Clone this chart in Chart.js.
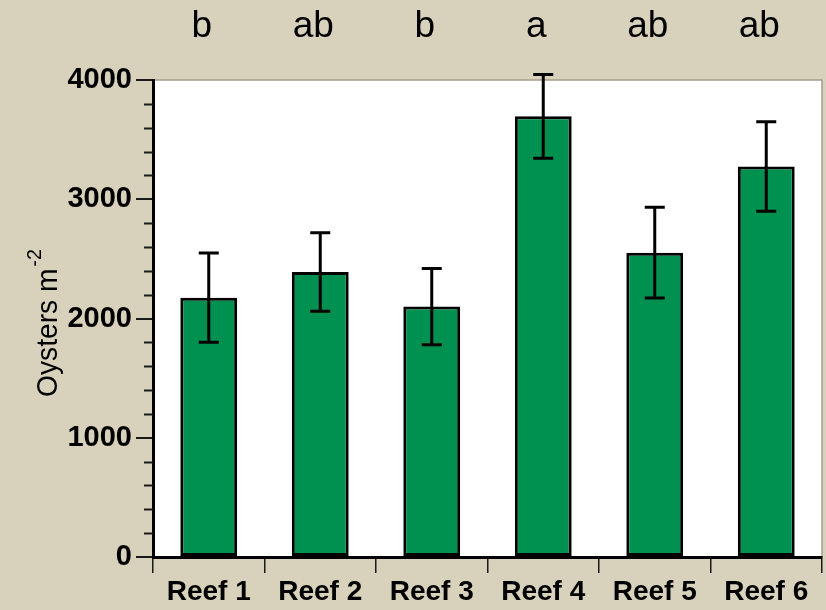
<!DOCTYPE html>
<html>
<head>
<meta charset="utf-8">
<script src="https://cdn.jsdelivr.net/npm/chart.js@4.4.1/dist/chart.umd.min.js"></script>
<style>
  html, body { margin: 0; padding: 0; background: #d8d1bb; }
  #wrap { width: 826px; height: 610px; position: relative; }
</style>
</head>
<body>
<div id="wrap"><canvas id="c" width="826" height="610"></canvas></div>
<script>
// Oyster density per reef (mean and standard error), with significance groups
const reefs = ['Reef 1', 'Reef 2', 'Reef 3', 'Reef 4', 'Reef 5', 'Reef 6'];
const meanDensity = [2175, 2390, 2100, 3695, 2552, 3275];
const stdError = [374, 330, 320, 352, 381, 375];
const groupLetters = ['b', 'ab', 'b', 'a', 'ab', 'ab'];
const yMin = 0, yMax = 4000, yMajorStep = 1000, yMinorStep = 200;

const FONT = '"Liberation Sans", Arial, sans-serif';

// White plotting panel with a thin grey frame on top and right
const panelPlugin = {
  id: 'panel',
  beforeDraw(chart) {
    const { ctx, chartArea: a } = chart;
    ctx.save();
    ctx.fillStyle = '#ffffff';
    ctx.fillRect(a.left, a.top, a.right - a.left, a.bottom - a.top);
    ctx.strokeStyle = '#a39d8b';
    ctx.lineWidth = 1.5;
    ctx.beginPath();
    ctx.moveTo(a.left, a.top);
    ctx.lineTo(a.right, a.top);
    ctx.lineTo(a.right, a.bottom);
    ctx.stroke();
    ctx.restore();
  }
};

// Minor tick marks on the value axis
const minorTickPlugin = {
  id: 'minorTicks',
  afterDraw(chart) {
    const { ctx } = chart;
    const y = chart.scales.y;
    ctx.save();
    ctx.strokeStyle = '#1a1a1a';
    ctx.lineWidth = 2;
    for (let v = yMin; v <= yMax; v += yMinorStep) {
      if (v % yMajorStep === 0) continue;
      const py = Math.round(y.getPixelForValue(v)) + 0.5;
      ctx.beginPath();
      ctx.moveTo(y.right - 9, py);
      ctx.lineTo(y.right, py);
      ctx.stroke();
    }
    ctx.restore();
  }
};

// Standard-error whiskers on each bar
const errorBarPlugin = {
  id: 'errorBars',
  afterDatasetsDraw(chart) {
    const { ctx } = chart;
    const y = chart.scales.y;
    const meta = chart.getDatasetMeta(0);
    ctx.save();
    ctx.strokeStyle = '#000000';
    ctx.lineWidth = 3;
    meta.data.forEach((bar, i) => {
      const x = bar.x;
      const hi = y.getPixelForValue(meanDensity[i] + stdError[i]);
      const lo = y.getPixelForValue(meanDensity[i] - stdError[i]);
      ctx.beginPath();
      ctx.moveTo(x, hi);
      ctx.lineTo(x, lo);
      ctx.moveTo(x - 10, hi);
      ctx.lineTo(x + 10, hi);
      ctx.moveTo(x - 10, lo);
      ctx.lineTo(x + 10, lo);
      ctx.stroke();
    });
    ctx.restore();
  }
};

// Group letters above the panel and the rotated axis title
const annotationPlugin = {
  id: 'annotations',
  afterDraw(chart) {
    const { ctx } = chart;
    const x = chart.scales.x;
    ctx.save();
    ctx.fillStyle = '#000000';
    ctx.textAlign = 'center';
    ctx.textBaseline = 'alphabetic';
    ctx.font = '37px ' + FONT;
    groupLetters.forEach((txt, i) => {
      const px = x.getPixelForValue(i) - 7;
      ctx.fillText(txt, px, 37);
    });

    // "Oysters m" with superscript "-2", rotated
    ctx.save();
    ctx.translate(57, 397);
    ctx.rotate(-Math.PI / 2);
    ctx.scale(0.94, 1);
    ctx.textAlign = 'left';
    ctx.font = '30px ' + FONT;
    const main = 'Oysters m';
    ctx.fillText(main, 0, 0);
    const w = ctx.measureText(main).width;
    ctx.font = '21px ' + FONT;
    ctx.fillText('-2', w + 2, -16);
    ctx.restore();
    ctx.restore();
  }
};

new Chart(document.getElementById('c'), {
  type: 'bar',
  data: {
    labels: reefs,
    datasets: [{
      data: meanDensity,
      backgroundColor: '#00904f',
      borderColor: '#000000',
      borderWidth: 3,
      borderSkipped: false,
      barPercentage: 0.51,
      categoryPercentage: 1.0
    }]
  },
  options: {
    responsive: false,
    animation: false,
    events: [],
    layout: { padding: { top: 80, right: 4, left: 0, bottom: 0 } },
    plugins: { legend: { display: false }, tooltip: { enabled: false } },
    scales: {
      x: {
        grid: {
          offset: true,
          drawOnChartArea: false,
          drawTicks: true,
          tickLength: 16,
          color: '#1a1a1a',
          lineWidth: 1.5
        },
        border: { display: true, color: '#000000', width: 3 },
        ticks: {
          color: '#000000',
          padding: 2,
          font: { family: FONT, size: 28, weight: 'bold' },
          maxRotation: 0
        },
        afterFit(s) { s.height = 53; }
      },
      y: {
        min: yMin,
        max: yMax,
        ticks: {
          stepSize: yMajorStep,
          color: '#000000',
          padding: 4,
          font: { family: FONT, size: 29, weight: 'bold' },
          callback: (v) => String(v)
        },
        grid: {
          drawOnChartArea: false,
          drawTicks: true,
          tickLength: 17,
          color: '#1a1a1a',
          lineWidth: 2
        },
        border: { display: true, color: '#000000', width: 3 },
        afterFit(s) { s.width = 153; }
      }
    }
  },
  plugins: [panelPlugin, minorTickPlugin, errorBarPlugin, annotationPlugin]
});
</script>
</body>
</html>
